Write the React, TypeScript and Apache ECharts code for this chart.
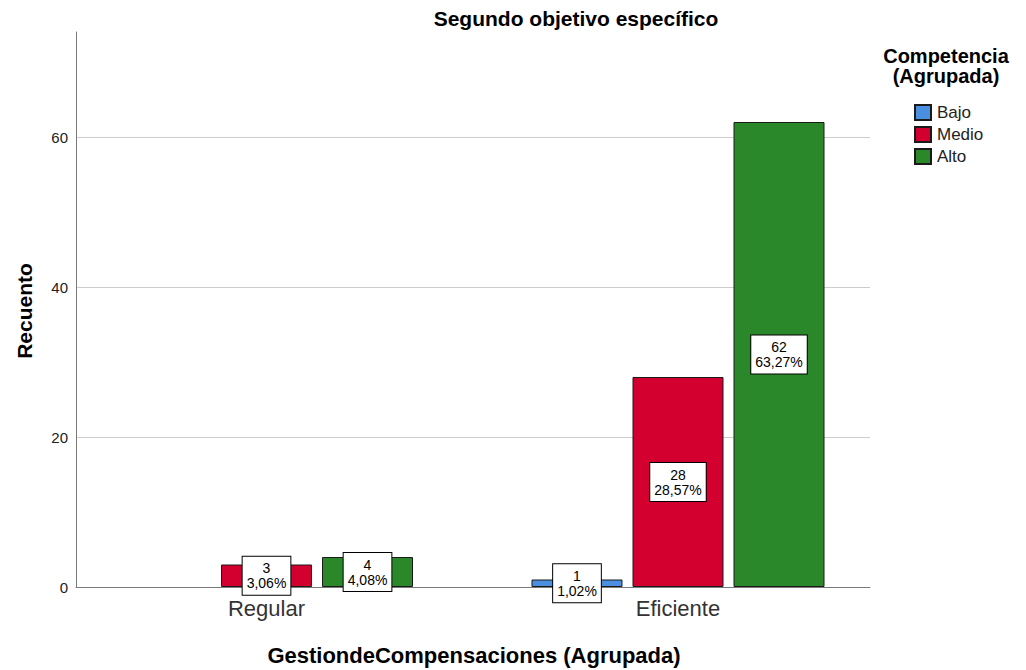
import React, { useEffect, useRef } from "react";
import * as echarts from "echarts";

// Grouped counts by compensation management level
const categories = ["Regular", "Eficiente"];
const levels = ["Bajo", "Medio", "Alto"];
const bajoCounts: (number | null)[] = [null, 1];
const medioCounts: (number | null)[] = [3, 28];
const altoCounts: (number | null)[] = [4, 62];
const bajoPct = ["", "1,02%"];
const medioPct = ["3,06%", "28,57%"];
const altoPct = ["4,08%", "63,27%"];
const yTicks = [0, 20, 40, 60];

const colors = ["#4a8fe0", "#d3002f", "#2a882a"];
const FONT = "Liberation Sans, Arial, sans-serif";

export default function App() {
  const ref = useRef<HTMLDivElement>(null);

  useEffect(() => {
    if (!ref.current) return;
    const chart = echarts.init(ref.current, null, { renderer: "svg" });

    const seriesData = [bajoCounts, medioCounts, altoCounts];
    const pctData = [bajoPct, medioPct, altoPct];

    const series = levels.map((name, i) => ({
      name,
      type: "bar",
      xAxisIndex: 1,
      yAxisIndex: 1,
      data: seriesData[i],
      barWidth: 91,
      barGap: "11%",
      itemStyle: { color: colors[i], borderColor: "#1a1a1a", borderWidth: 1 },
      label: {
        show: true,
        position: "inside",
        formatter: (p: any) => `${p.value}\n${pctData[i][p.dataIndex]}`,
        backgroundColor: "#ffffff",
        borderColor: "#000000",
        borderWidth: 1,
        padding: [4, 4, 4, 4],
        color: "#000",
        fontFamily: FONT,
        fontSize: 14,
        lineHeight: 15,
        align: "center",
      },
    }));

    const yMax = 74;

    chart.setOption({
      animation: false,
      backgroundColor: "#ffffff",
      textStyle: { fontFamily: FONT },
      grid: [
        { left: 76, right: 156, top: 32, bottom: 83 },
        { left: 60.75, right: 142.25, top: 32, bottom: 83 },
      ],
      xAxis: [
        {
          type: "value",
          gridIndex: 0,
          min: 0,
          max: 1,
          axisLine: { show: true, lineStyle: { color: "#7a7a7a", width: 1 } },
          axisTick: { show: false },
          axisLabel: { show: false },
          splitLine: { show: false },
        },
        {
          type: "category",
          gridIndex: 1,
          data: categories,
          axisLine: { show: false },
          axisTick: { show: false },
          splitLine: { show: false },
          axisLabel: { color: "#333", fontSize: 22, fontFamily: FONT, margin: 10 },
        },
      ],
      yAxis: [
        {
          type: "value",
          gridIndex: 0,
          min: 0,
          max: yMax,
          interval: 20,
          axisLine: { show: true, lineStyle: { color: "#7a7a7a", width: 1 } },
          axisTick: { show: false },
          axisLabel: {
            color: "#222",
            fontSize: 15,
            fontFamily: FONT,
            margin: 8,
            showMaxLabel: false,
            formatter: (v: number) => (yTicks.includes(v) ? String(v) : ""),
          },
          splitLine: {
            show: true,
            showMinLine: false,
            showMaxLine: false,
            lineStyle: { color: "#cccccc", width: 1 },
          },
        },
        {
          type: "value",
          gridIndex: 1,
          min: 0,
          max: yMax,
          show: false,
          splitLine: { show: false },
        },
      ],
      legend: {
        data: levels,
        orient: "vertical",
        left: 914,
        top: 104,
        padding: 0,
        itemWidth: 16,
        itemHeight: 15,
        itemGap: 5,
        icon: "rect",
        textStyle: { fontSize: 17, color: "#222", fontFamily: FONT, padding: [0, 0, 0, 1] },
        selectedMode: false,
      },
      graphic: [
        {
          type: "text",
          x: 576,
          y: 18,
          style: {
            text: "Segundo objetivo específico",
            font: `bold 21px ${FONT}`,
            fill: "#000",
            align: "center",
            verticalAlign: "middle",
          },
        },
        {
          type: "text",
          x: 474,
          y: 655,
          style: {
            text: "GestiondeCompensaciones (Agrupada)",
            font: `bold 22px ${FONT}`,
            fill: "#000",
            align: "center",
            verticalAlign: "middle",
          },
        },
        {
          type: "text",
          x: 24,
          y: 311,
          rotation: Math.PI / 2,
          style: {
            text: "Recuento",
            font: `bold 21px ${FONT}`,
            fill: "#000",
            align: "center",
            verticalAlign: "middle",
          },
        },
        {
          type: "text",
          x: 946,
          y: 66,
          style: {
            text: "Competencia\n(Agrupada)",
            font: `bold 20px ${FONT}`,
            lineHeight: 20,
            fill: "#000",
            align: "center",
            verticalAlign: "middle",
          },
        },
      ],
      series,
    });

    return () => chart.dispose();
  }, []);

  return (
    <div
      ref={ref}
      style={{ position: "absolute", left: 0, top: 0, width: 1026, height: 670 }}
    />
  );
}
